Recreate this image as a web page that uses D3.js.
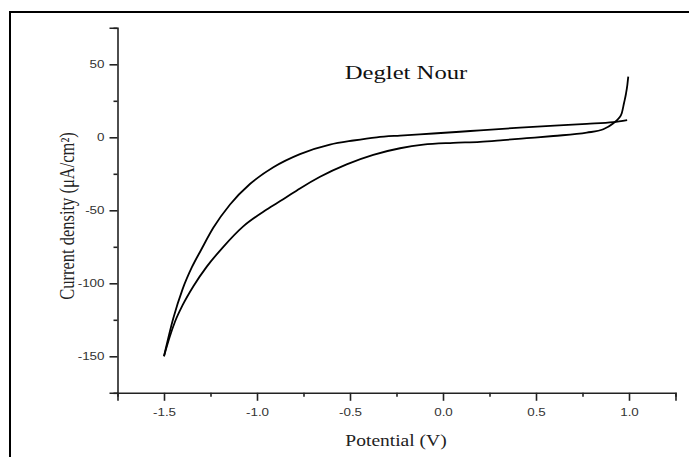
<!DOCTYPE html>
<html>
<head>
<meta charset="utf-8">
<script src="https://cdn.jsdelivr.net/npm/d3@7/dist/d3.min.js"></script>
<style>
  html, body { margin: 0; padding: 0; background: #fff; }
  svg { display: block; }
</style>
</head>
<body>
<svg id="chart" width="689" height="457"></svg>
<script>
// Cyclic voltammogram, Deglet Nour
const chartTitle = "Deglet Nour";
const xTitle = "Potential (V)";
const yTitle = "Current density (μA/cm²)";

// Axis ticks
const potentialTicks = [-1.5, -1.0, -0.5, 0.0, 0.5, 1.0];
const potentialMinorTicks = [-1.75, -1.25, -0.75, -0.25, 0.25, 0.75, 1.25];
const currentTicks = [-150, -100, -50, 0, 50];
const currentMinorTicks = [-175, -125, -75, -25, 25, 75];

// Anodic sweep (lower branch, ending in the oxidation spike at 1.0 V)
const anodicPotential = [-1.5, -1.47, -1.44, -1.4, -1.342, -1.27, -1.181, -1.074, -0.948,
  -0.859, -0.769, -0.661, -0.518, -0.375, -0.231, -0.106, 0.055, 0.199, 0.324, 0.45,
  0.593, 0.773, 0.862, 0.916, 0.945, 0.961, 0.973, 0.984, 0.991, 0.996];
const anodicCurrent = [-150, -137, -126, -115, -102, -88.6, -75, -61, -49.5,
  -42.5, -35, -27, -18.5, -12, -7.5, -5, -3.8, -3.1, -1.9, -0.6,
  0.9, 3.2, 5.5, 9.6, 13, 16.4, 23.3, 30, 35.8, 41.5];

// Cathodic sweep (upper branch, back from 1.0 V to -1.5 V)
const cathodicPotential = [-1.5, -1.45, -1.4, -1.35, -1.3, -1.235, -1.145, -1.038,
  -0.912, -0.769, -0.608, -0.482, -0.356, -0.231, -0.052, 0.091, 0.199, 0.414, 0.6,
  0.773, 0.916, 0.99];
const cathodicCurrent = [-150, -124, -104, -89, -77, -62, -46, -32,
  -20.5, -11.5, -5, -2.2, 0, 1.2, 2.6, 3.8, 4.8, 6.6, 8,
  9.2, 10.4, 11.8];

const svg = d3.select("#chart");

// outer frame (runs off the right and bottom edges)
svg.append("rect")
  .attr("x", 10).attr("y", 12)
  .attr("width", 720).attr("height", 480)
  .attr("fill", "none").attr("stroke", "#000").attr("stroke-width", 2);

const x = d3.scaleLinear().domain([-1.75, 1.25]).range([117.5, 675.5]);
const y = d3.scaleLinear().domain([-175, 75]).range([392.8, 27.8]);

const axisColor = "#222";
const sansFont = "'Liberation Sans', Arial, sans-serif";
const serifFont = "'Liberation Serif', 'Times New Roman', serif";
const stretch = 1.22;

// x axis
const xAxisG = svg.append("g").attr("transform", `translate(0,${y(-175)})`);
xAxisG.call(d3.axisBottom(x).tickValues(potentialTicks).tickSize(8).tickPadding(7)
  .tickFormat(d => d.toFixed(1)));
xAxisG.append("g").call(d3.axisBottom(x).tickValues(potentialMinorTicks).tickSize(4).tickFormat(""))
  .select(".domain").remove();
xAxisG.selectAll("text")
  .attr("font-family", sansFont).attr("font-size", 11).attr("fill", "#333")
  .attr("transform", `scale(${stretch},1)`);

// y axis
const yAxisG = svg.append("g").attr("transform", `translate(${x(-1.75)},0)`);
yAxisG.call(d3.axisLeft(y).tickValues(currentTicks).tickSize(8).tickPadding(5)
  .tickFormat(d => String(d)));
yAxisG.append("g").call(d3.axisLeft(y).tickValues(currentMinorTicks).tickSize(4).tickFormat(""))
  .select(".domain").remove();
yAxisG.selectAll("text")
  .attr("font-family", sansFont).attr("font-size", 11).attr("fill", "#333")
  .attr("x", -13 / stretch)
  .attr("transform", `scale(${stretch},1)`);

svg.selectAll(".domain, .tick line")
  .attr("stroke", axisColor).attr("stroke-width", 1.6);

// curves
const line = d3.line()
  .x(d => x(d[0]))
  .y(d => y(d[1]))
  .curve(d3.curveMonotoneX);

const anodic = anodicPotential.map((v, i) => [v, anodicCurrent[i]]);
const cathodic = cathodicPotential.map((v, i) => [v, cathodicCurrent[i]]);

svg.append("g").selectAll("path")
  .data([anodic, cathodic])
  .join("path")
  .attr("d", line)
  .attr("fill", "none")
  .attr("stroke", "#000")
  .attr("stroke-width", 1.8)
  .attr("stroke-linejoin", "round");

// titles
svg.append("text")
  .attr("transform", `translate(406,79) scale(1.3,1)`)
  .attr("text-anchor", "middle")
  .attr("font-family", serifFont).attr("font-size", 19).attr("fill", "#111")
  .text(chartTitle);

svg.append("text")
  .attr("transform", `translate(396,446) scale(${stretch},1)`)
  .attr("text-anchor", "middle")
  .attr("font-family", serifFont).attr("font-size", 16).attr("fill", "#222")
  .text(xTitle);

svg.append("text")
  .attr("transform", `translate(74,216) scale(${stretch},1) rotate(-90)`)
  .attr("text-anchor", "middle")
  .attr("font-family", serifFont).attr("font-size", 16.5).attr("fill", "#222")
  .text(yTitle);
</script>
</body>
</html>
